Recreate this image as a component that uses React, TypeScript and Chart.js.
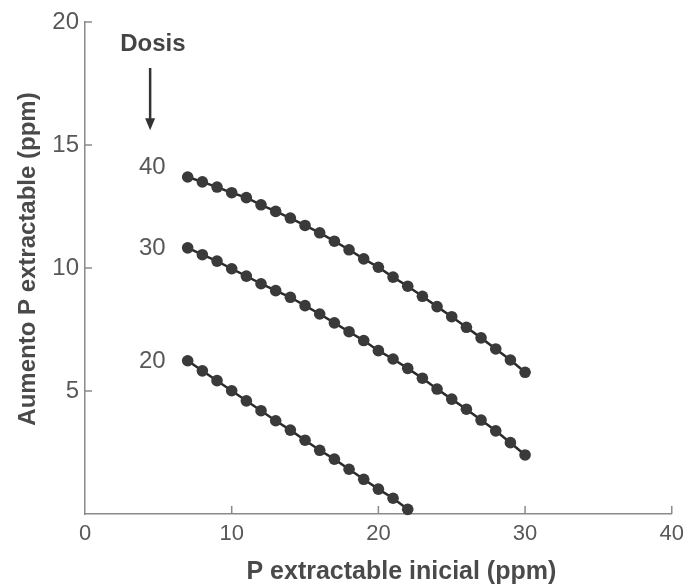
import React, { useEffect, useRef } from "react";
import { Chart, registerables } from "chart.js";

Chart.register(...registerables);

// ---- data ----
const xLong = [7, 8, 9, 10, 11, 12, 13, 14, 15, 16, 17, 18, 19, 20, 21, 22, 23, 24, 25, 26, 27, 28, 29, 30];
const xShort = [7, 8, 9, 10, 11, 12, 13, 14, 15, 16, 17, 18, 19, 20, 21, 22];

const dose40 = [13.7, 13.5, 13.29, 13.06, 12.86, 12.57, 12.3, 12.03, 11.73, 11.43, 11.09, 10.74, 10.37, 10.03, 9.63, 9.26, 8.85, 8.43, 8.02, 7.59, 7.16, 6.71, 6.26, 5.76];
const dose30 = [10.82, 10.54, 10.28, 9.97, 9.67, 9.36, 9.08, 8.81, 8.47, 8.13, 7.77, 7.41, 7.05, 6.64, 6.3, 5.92, 5.52, 5.08, 4.67, 4.26, 3.82, 3.38, 2.9, 2.4];
const dose20 = [6.23, 5.82, 5.42, 5.01, 4.6, 4.2, 3.79, 3.41, 3.0, 2.59, 2.23, 1.82, 1.41, 1.01, 0.64, 0.19];

const doseLabels = ["40", "30", "20"];
const doseLabelY = [14.1, 10.8, 6.2];
const doseLabelX = 5.5;

const xTickValues = [0, 10, 20, 30, 40];
const yTickValues = [5, 10, 15, 20];

const xTitle = "P extractable inicial (ppm)";
const yTitle = "Aumento P extractable (ppm)";
const legendTitle = "Dosis";

const FONT = "'Liberation Sans', Arial, Helvetica, sans-serif";
const TEXT = "#585858";
const TITLE = "#4a4a4a";
const AXIS = "#8a8a8a";
const DOT = "#3a3a3a";
const LINE = "#2b2b2b";

const toPoints = (xs: number[], ys: number[]) => xs.map((x, i) => ({ x, y: ys[i] }));

const annotations = {
  id: "annotations",
  afterDraw(chart: any) {
    const { ctx, chartArea, scales } = chart;
    const x = scales.x;
    const y = scales.y;
    ctx.save();

    // inward tick marks
    ctx.strokeStyle = AXIS;
    ctx.lineWidth = 1.5;
    xTickValues.filter((v) => v !== 0).forEach((v) => {
      const px = x.getPixelForValue(v);
      ctx.beginPath();
      ctx.moveTo(px, chartArea.bottom);
      ctx.lineTo(px, chartArea.bottom - 8);
      ctx.stroke();
    });
    yTickValues.forEach((v) => {
      const py = y.getPixelForValue(v);
      ctx.beginPath();
      ctx.moveTo(chartArea.left, py);
      ctx.lineTo(chartArea.left + 7, py);
      ctx.stroke();
    });

    // dose labels
    ctx.fillStyle = TEXT;
    ctx.font = `24px ${FONT}`;
    ctx.textAlign = "right";
    ctx.textBaseline = "middle";
    doseLabels.forEach((t, i) => {
      ctx.fillText(t, x.getPixelForValue(doseLabelX), y.getPixelForValue(doseLabelY[i]));
    });

    // "Dosis" and arrow
    ctx.font = `bold 24px ${FONT}`;
    ctx.textAlign = "center";
    ctx.fillStyle = "#444444";
    ctx.fillText(legendTitle, x.getPixelForValue(4.63), y.getPixelForValue(19.08));
    const ax = x.getPixelForValue(4.44);
    const ay0 = y.getPixelForValue(18.13);
    const ay1 = y.getPixelForValue(15.6);
    ctx.strokeStyle = "#333333";
    ctx.lineWidth = 2.5;
    ctx.beginPath();
    ctx.moveTo(ax, ay0);
    ctx.lineTo(ax, ay1 - 8);
    ctx.stroke();
    ctx.fillStyle = "#333333";
    ctx.beginPath();
    ctx.moveTo(ax - 5, ay1 - 12);
    ctx.lineTo(ax + 5, ay1 - 12);
    ctx.lineTo(ax, ay1);
    ctx.closePath();
    ctx.fill();

    // axis titles
    ctx.fillStyle = TITLE;
    ctx.textAlign = "center";
    ctx.textBaseline = "middle";
    ctx.font = `bold 25px ${FONT}`;
    ctx.fillText(xTitle, (chartArea.left + chartArea.right) / 2 + 23, chartArea.bottom + 58);
    ctx.font = `bold 24px ${FONT}`;
    ctx.translate(28, (chartArea.top + chartArea.bottom) / 2 - 9);
    ctx.rotate(-Math.PI / 2);
    ctx.fillText(yTitle, 0, 0);

    ctx.restore();
  },
};

export default function App() {
  const ref = useRef<HTMLCanvasElement | null>(null);

  useEffect(() => {
    if (!ref.current) return;
    const ds = (data: { x: number; y: number }[]) => ({
      data,
      borderColor: LINE,
      borderWidth: 2.5,
      backgroundColor: DOT,
      pointBackgroundColor: DOT,
      pointBorderColor: DOT,
      pointRadius: 5.8,
      pointBorderWidth: 0,
      tension: 0,
      clip: false as any,
    });
    const chart = new Chart(ref.current, {
      type: "line",
      data: {
        datasets: [
          ds(toPoints(xLong, dose40)),
          ds(toPoints(xLong, dose30)),
          ds(toPoints(xShort, dose20)),
        ],
      },
      options: {
        animation: false,
        responsive: false,
        maintainAspectRatio: false,
        layout: { padding: { top: 22, right: 14, left: 0, bottom: 0 } },
        plugins: { legend: { display: false }, tooltip: { enabled: false } },
        scales: {
          x: {
            type: "linear",
            min: 0,
            max: 40,
            afterBuildTicks: (s: any) => {
              s.ticks = xTickValues.map((v) => ({ value: v }));
            },
            afterFit: (s: any) => {
              s.height = 70;
            },
            grid: { display: false, drawTicks: false },
            border: { display: true, color: AXIS, width: 1.5 },
            ticks: { color: TEXT, font: { family: FONT, size: 22 }, padding: 7, maxRotation: 0 },
          },
          y: {
            type: "linear",
            min: 0,
            max: 20,
            afterBuildTicks: (s: any) => {
              s.ticks = yTickValues.map((v) => ({ value: v }));
            },
            afterFit: (s: any) => {
              s.width = 85;
            },
            grid: { display: false, drawTicks: false },
            border: { display: true, color: AXIS, width: 1.5 },
            ticks: { color: TEXT, font: { family: FONT, size: 24 }, padding: 6 },
          },
        },
      },
      plugins: [annotations],
    });
    return () => chart.destroy();
  }, []);

  return (
    <div style={{ position: "fixed", left: 0, top: 0, width: 691, height: 584, background: "#ffffff" }}>
      <canvas ref={ref} width={691} height={584} style={{ width: 691, height: 584, display: "block" }} />
    </div>
  );
}
